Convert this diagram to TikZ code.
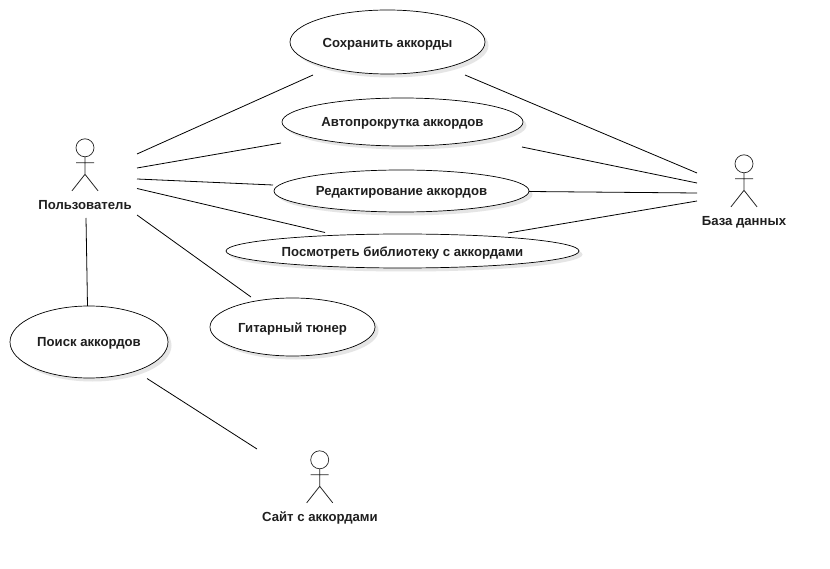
\documentclass[tikz,border=0pt]{standalone}
\usepackage{fontspec}
\setmainfont{Liberation Sans}
\usetikzlibrary{shapes.geometric}
\tikzset{
  conn/.style={draw=black,line width=0.8pt},
  lbl/.style={font=\fontsize{13.15}{15}\selectfont\bfseries,text=black!88,inner sep=0pt},
  usecase/.style={ellipse,draw=black,line width=0.7pt,fill=white,inner sep=0pt},
  usecaseshadow/.style={ellipse,fill=black!10,inner sep=0pt},
  actor/.pic={
    \draw[line width=0.7pt,draw=black!85] (0,0) circle (9);
    \draw[line width=0.8pt,draw=black!85] (0,9) -- (0,26.5) (-9,15) -- (9,15) (-13,43) -- (0,26.5) -- (13,43);
  }
}
\newcommand{\ucase}[6]{% name, x, y, rx, ry, text
  \node[usecaseshadow,minimum width=#4*2pt,minimum height=#5*2pt] at (#2+3.5,#3+3.5) {};
  \node[usecase,minimum width=#4*2pt,minimum height=#5*2pt] (#1) at (#2,#3) {};
  \node[lbl] (#1text) at (#2,#3+1.8) {#6};
}
\begin{document}
\begin{tikzpicture}[x=1pt,y=-1pt]
\useasboundingbox (0,0) rectangle (830,569);
\fill[white] (0,0) rectangle (830,569);

\ucase{save}{387.5}{42}{97.5}{32}{Сохранить аккорды}
\ucase{auto}{402.5}{122}{120.5}{24}{Автопрокрутка аккордов}
\ucase{edit}{401.5}{191}{127.5}{21}{Редактирование аккордов}
\ucase{view}{402.5}{251}{176.5}{17}{Посмотреть библиотеку с аккордами}
\ucase{tuner}{292.5}{327}{82.5}{29}{Гитарный тюнер}
\ucase{search}{89}{342}{79}{36}{Поиск аккордов}

\pic at (85,147.8) {actor};
\pic at (744,163.8) {actor};
\pic at (319.7,459.8) {actor};
\node[lbl] (user) at (85,205.5) {Пользователь};
\node[lbl] (db) at (744,221.8) {База данных};
\node[lbl] (site) at (320,517.8) {Сайт с аккордами};

\coordinate (uA) at (137,154);   \coordinate (sA) at (313,75);
\coordinate (uB) at (137,168);   \coordinate (aA) at (281,143);
\coordinate (uC) at (137,179);   \coordinate (eA) at (273,185);
\coordinate (uD) at (137,188.5); \coordinate (vA) at (325,232.5);
\coordinate (uE) at (137,215);   \coordinate (tA) at (251,297);
\coordinate (uF) at (86,218);    \coordinate (fA) at (87.5,306);
\coordinate (fB) at (147,378.5); \coordinate (wA) at (257,449);
\coordinate (sB) at (465,75);    \coordinate (dA) at (697,173);
\coordinate (aB) at (522,147);   \coordinate (dB) at (697,183);
\coordinate (eB) at (529,191.5); \coordinate (dC) at (697,193);
\coordinate (vB) at (508,233);   \coordinate (dD) at (697,201);

\draw[conn] (uA) -- (sA);
\draw[conn] (uB) -- (aA);
\draw[conn] (uC) -- (eA);
\draw[conn] (uD) -- (vA);
\draw[conn] (uE) -- (tA);
\draw[conn] (uF) -- (fA);
\draw[conn] (fB) -- (wA);
\draw[conn] (sB) -- (dA);
\draw[conn] (aB) -- (dB);
\draw[conn] (eB) -- (dC);
\draw[conn] (vB) -- (dD);
\end{tikzpicture}
\end{document}
